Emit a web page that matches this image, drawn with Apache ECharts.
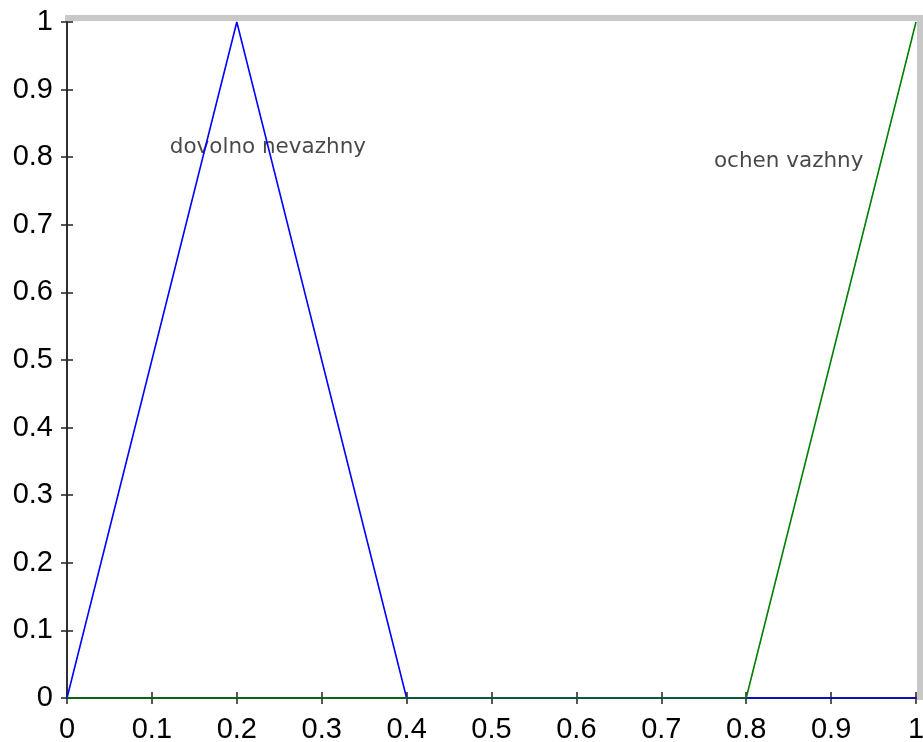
<!DOCTYPE html>
<html>
<head>
<meta charset="utf-8">
<script src="https://cdn.jsdelivr.net/npm/echarts@6/dist/echarts.min.js"></script>
<style>
html, body { margin: 0; padding: 0; background: #fff; }
#chart { width: 923px; height: 742px; }
</style>
</head>
<body>
<div id="chart"></div>
<script>
// membership functions
var nevazhnyPts = [[0, 0], [0.2, 1], [0.4, 0], [1, 0]];
var vazhnyPts = [[0, 0], [0.8, 0], [1, 1]];
var labelNames = ['dovolno nevazhny', 'ochen vazhny'];
var labelPos = [[0.121, 0.814], [0.762, 0.794]];

var myChart = echarts.init(document.getElementById('chart'));

var axisCommon = {
    type: 'value',
    min: 0,
    max: 1,
    interval: 0.1,
    splitLine: { show: false },
    axisLine: { show: true, lineStyle: { color: '#222', width: 1.5 } },
    axisTick: { show: true, inside: true, length: 6, lineStyle: { color: '#222', width: 1.5 } }
};

var option = {
    animation: false,
    backgroundColor: '#fff',
    graphic: [
        { type: 'rect', shape: { x: 65, y: 15, width: 858, height: 6 }, style: { fill: '#c8c8c8' } },
        { type: 'rect', shape: { x: 917, y: 15, width: 6, height: 685 }, style: { fill: '#c8c8c8' } }
    ],
    grid: {
        left: 67, right: 7, top: 22, bottom: 44,
        outerBoundsMode: 'none',
        containLabel: false,
        show: true, backgroundColor: '#fff', borderWidth: 0
    },
    xAxis: [
        Object.assign({}, axisCommon, {
            position: 'bottom',
            axisLabel: { color: '#000', fontSize: 29, fontFamily: 'Arial', margin: 17 }
        }),
        Object.assign({}, axisCommon, { position: 'top', axisLabel: { show: false } })
    ],
    yAxis: [
        Object.assign({}, axisCommon, {
            position: 'left',
            axisLabel: { color: '#000', fontSize: 29, fontFamily: 'Arial', margin: 14 }
        }),
        Object.assign({}, axisCommon, { position: 'right', axisLabel: { show: false } })
    ],
    series: [
        {
            type: 'line',
            data: nevazhnyPts,
            symbol: 'none',
            lineStyle: { color: '#0000ff', width: 1.6 }
        },
        {
            type: 'line',
            data: vazhnyPts,
            symbol: 'none',
            lineStyle: { color: '#008000', width: 1.6 }
        },
        {
            type: 'scatter',
            symbolSize: 0,
            data: labelPos.map(function (p, i) { return { value: p, name: labelNames[i] }; }),
            label: {
                show: true,
                position: 'right',
                distance: 0,
                formatter: '{b}',
                color: '#1a1a1a',
                fontSize: 21.5,
                fontFamily: 'DejaVu Sans'
            },
            silent: true
        }
    ]
};

myChart.setOption(option);
window.addEventListener('resize', function () {
    myChart.resize();
});
</script>
</body>
</html>
